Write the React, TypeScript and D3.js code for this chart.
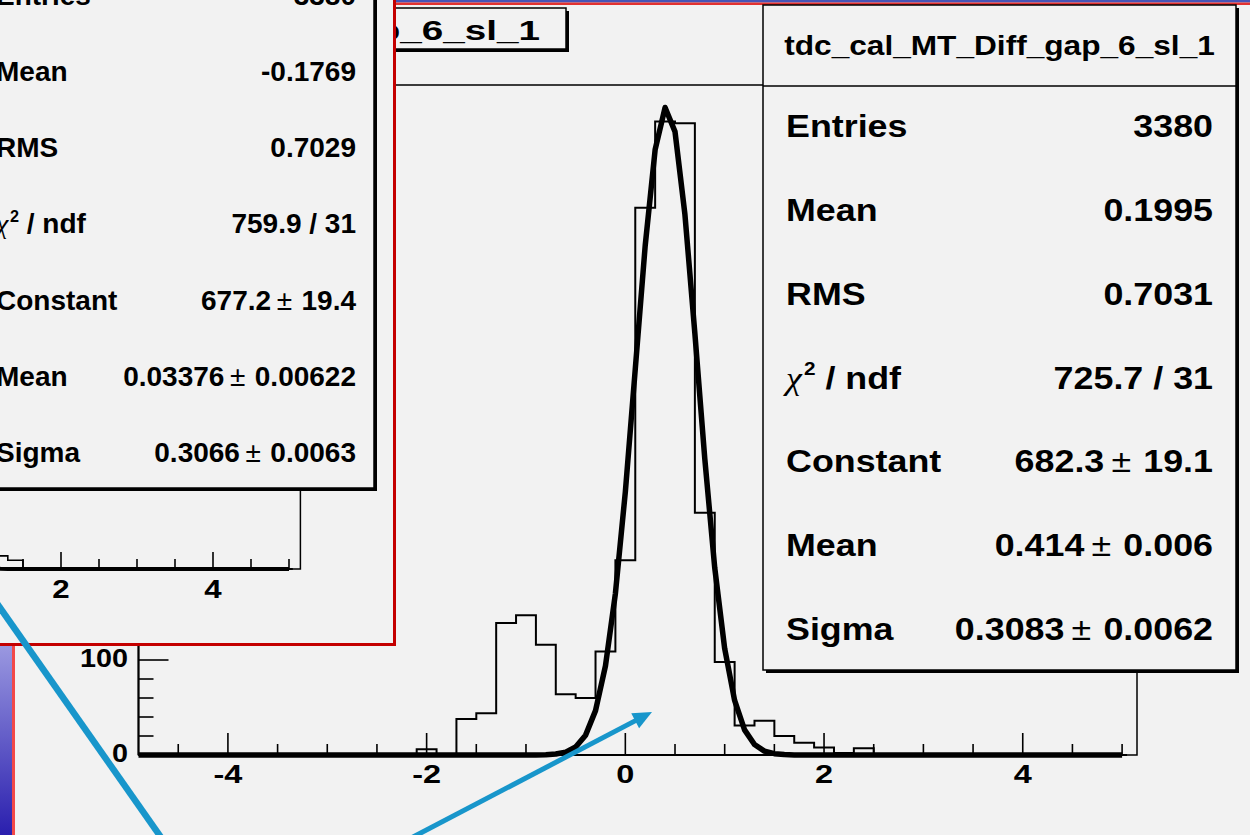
import React from 'react';
import * as d3 from 'd3';

const binEdges = [-2.1, -1.9, -1.7, -1.5, -1.3, -1.1, -0.9, -0.7, -0.5, -0.3, -0.1, 0.1, 0.3, 0.5, 0.7, 0.9, 1.1, 1.3, 1.5, 1.7, 1.9, 2.1, 2.3, 2.5];
const binCounts = [6, 0, 38, 44, 139, 147, 116, 64, 60, 109, 205, 576, 667, 665, 255, 98, 31, 36, 20, 13, 8, 2, 7];

// the older pad on the left: only its right tail is still visible
const oldBinEdges = [1.1, 1.3, 1.5, 1.7, 1.9, 2.1, 2.3];
const oldBinCounts = [18, 12, 1, 1, 1, 0];

// gaussian fits, as printed in the stat boxes
const fitMain = { constant: 682.3, mean: 0.414, sigma: 0.3083 };
const fitOld = { constant: 677.2, mean: 0.03376, sigma: 0.3066 };

const histName = 'tdc_cal_MT_Diff_gap_6_sl_1';
const statLabels = ['Entries', 'Mean', 'RMS', 'chi2', 'Constant', 'Mean', 'Sigma'];
const mainValues = ['3380', '0.1995', '0.7031', '725.7 / 31', '682.3', '0.414', '0.3083'];
const mainErrors = ['', '', '', '', '19.1', '0.006', '0.0062'];
const oldValues = ['3380', '-0.1769', '0.7029', '759.9 / 31', '677.2', '0.03376', '0.3066'];
const oldErrors = ['', '', '', '', '19.4', '0.00622', '0.0063'];

const xMajorTicks = [-4, -2, 0, 2, 4];
const yMajorTicks = [0, 100, 200, 300, 400, 500, 600, 700];

const FONT = "'Liberation Sans', Arial, Helvetica, sans-serif";
const BG = '#f2f2f2';
const ARROW = '#1896cb';

type Fit = { constant: number; mean: number; sigma: number };
type Scale = d3.ScaleLinear<number, number>;

function histPath(edges: number[], counts: number[], x: Scale, y: Scale) {
  const pts: [number, number][] = [[edges[0], 0]];
  counts.forEach((c, i) => {
    pts.push([edges[i], c]);
    pts.push([edges[i + 1], c]);
  });
  pts.push([edges[edges.length - 1], 0]);
  return d3.line<[number, number]>().x(d => x(d[0])).y(d => y(d[1]))(pts) || '';
}

function gausPath(fit: Fit, x: Scale, y: Scale, lo: number, hi: number) {
  // sampled like ROOT's TF1 (npx = 100)
  const xs = d3.range(lo, hi + 1e-9, 0.1);
  return d3.line<number>()
    .x(v => x(v))
    .y(v => y(fit.constant * Math.exp(-0.5 * ((v - fit.mean) / fit.sigma) ** 2)))(xs) || '';
}

function Txt(props: { x: number; y: number; size: number; sx: number; anchor?: string; children: React.ReactNode }) {
  const { x, y, size, sx, anchor = 'start', children } = props;
  return (
    <text transform={`translate(${x},${y}) scale(${sx},1)`} fontFamily={FONT} fontSize={size}
      fontWeight="bold" textAnchor={anchor} fill="#000">
      {children}
    </text>
  );
}

function StatRows(props: { values: string[]; errors: string[]; lx: number; vx: number; y0: number; y1: number; fs: number; sx: number }) {
  const { values, errors, lx, vx, y0, y1, fs, sx } = props;
  const rowY = d3.scalePoint<number>().domain(d3.range(statLabels.length)).range([y0, y1]);
  return (
    <g>
      {statLabels.map((lab, i) => {
        const by = rowY(i)!;
        return (
          <g key={i}>
            {lab === 'chi2' ? (
              <Txt x={lx} y={by} size={fs} sx={sx}>
                <tspan fontFamily="'Liberation Serif', serif" fontWeight="normal" fontStyle="italic">χ</tspan>
                <tspan fontSize={fs * 0.58} dx={fs * 0.06} dy={-fs * 0.42}>2</tspan>
                <tspan dy={fs * 0.42}>{' / ndf'}</tspan>
              </Txt>
            ) : (
              <Txt x={lx} y={by} size={fs} sx={sx}>{lab}</Txt>
            )}
            <Txt x={vx} y={by} size={fs} sx={sx} anchor="end">
              {values[i]}
              {errors[i] ? <tspan fontWeight="normal" dx={fs * 0.2}>±</tspan> : null}
              {errors[i] ? <tspan dx={fs * 0.06}>{' ' + errors[i]}</tspan> : null}
            </Txt>
          </g>
        );
      })}
    </g>
  );
}

function Ticks(props: { x: Scale; y0: number; major: number; minor: number; lo: number; hi: number }) {
  const { x, y0, major, minor, lo, hi } = props;
  const all = d3.range(lo, hi + 1e-9, 0.5);
  return (
    <g stroke="#000" strokeWidth={1.6}>
      {all.map(v => {
        const isMajor = xMajorTicks.includes(Math.round(v * 10) / 10);
        return <line key={v} x1={x(v)} x2={x(v)} y1={y0} y2={y0 - (isMajor ? major : minor)} />;
      })}
    </g>
  );
}

export default function App() {
  const W = 1250, H = 835;

  // right (current) pad
  const x = d3.scaleLinear().domain([-4.9, 5.15]).range([138.5, 1137]);
  const y = d3.scaleLinear().domain([0, 705.3]).range([755, 85]);

  // left (older) pad, mostly covered
  const x2 = d3.scaleLinear().domain([-4.9, 5.15]).range([-463.4, 300.4]);
  const y2 = d3.scaleLinear().domain([0, 705.3]).range([569, 56]);

  // arrow 2 head
  const tip: [number, number] = [652, 712];
  const tail: [number, number] = [392, 848];
  const len = Math.hypot(tip[0] - tail[0], tip[1] - tail[1]);
  const ux = (tip[0] - tail[0]) / len, uy = (tip[1] - tail[1]) / len;
  const hl = 19, hw = 8.5;
  const bx = tip[0] - ux * hl, by = tip[1] - uy * hl;
  const head = `${tip[0]},${tip[1]} ${bx - uy * hw},${by + ux * hw} ${bx + uy * hw},${by - ux * hw}`;

  return (
    <svg width={W} height={H} style={{ position: 'absolute', left: 0, top: 0, display: 'block' }}>
      <defs>
        <linearGradient id="strip" x1="0" y1="0" x2="0" y2="1">
          <stop offset="0" stopColor="#9a98e0" />
          <stop offset="1" stopColor="#2a1fae" />
        </linearGradient>
      </defs>
      <rect x={0} y={0} width={W} height={H} fill={BG} />

      {/* window edges of the main canvas */}
      <rect x={0} y={0} width={W} height={2.5} fill="#4654b6" />
      <rect x={0} y={2.5} width={W} height={2.5} fill="#e2312f" />
      <rect x={0} y={646} width={12} height={H - 646} fill="url(#strip)" />
      <rect x={12} y={646} width={3} height={H - 646} fill="#f24848" />

      {/* main title box */}
      <rect x={103} y={11} width={466} height={41} fill="#000" />
      <rect x={100} y={8} width={466} height={41} fill={BG} stroke="#000" strokeWidth={1.5} />
      <Txt x={540} y={40} size={28} sx={1.38} anchor="end">{histName}</Txt>

      {/* frame */}
      <rect x={x(-4.9)} y={y(705.3)} width={x(5.15) - x(-4.9)} height={y(0) - y(705.3)}
        fill="none" stroke="#000" strokeWidth={1.5} />

      {/* histogram + fit */}
      <path d={histPath(binEdges, binCounts, x, y)} fill="none" stroke="#000" strokeWidth={2} />
      <path d={gausPath(fitMain, x, y, -4.9, 5.05)} fill="none" stroke="#000" strokeWidth={5.5} strokeLinejoin="round" />

      {/* x axis */}
      <line x1={x(-4.9)} x2={x(5.05)} y1={y(0)} y2={y(0)} stroke="#000" strokeWidth={2} />
      <Ticks x={x} y0={y(0)} major={22} minor={11} lo={-4.5} hi={5} />
      {xMajorTicks.map(v => (
        <Txt key={v} x={x(v)} y={783} size={25} sx={1.3} anchor="middle">{String(v)}</Txt>
      ))}

      {/* y axis */}
      <line x1={x(-4.9)} x2={x(-4.9)} y1={y(705.3)} y2={y(0)} stroke="#000" strokeWidth={2} />
      <g stroke="#000" strokeWidth={1.6}>
        {d3.range(0, 701, 20).map(v => (
          <line key={v} x1={x(-4.9)} x2={x(-4.9) + (v % 100 === 0 ? 30 : 15)} y1={y(v)} y2={y(v)} />
        ))}
      </g>
      {yMajorTicks.map(v => (
        <Txt key={v} x={128} y={y(v) + 7} size={25} sx={1.15} anchor="end">{String(v)}</Txt>
      ))}

      {/* main stat box */}
      <rect x={766} y={8} width={473} height={665} fill="#000" />
      <rect x={763} y={5} width={473} height={665} fill={BG} stroke="#000" strokeWidth={1.5} />
      <line x1={763} x2={1236} y1={86} y2={86} stroke="#000" strokeWidth={1.5} />
      <Txt x={999.5} y={55} size={28} sx={1.13} anchor="middle">{histName}</Txt>
      <StatRows values={mainValues} errors={mainErrors} lx={786} vx={1213} y0={137} y1={640} fs={32} sx={1.12} />

      {/* older pad on the left */}
      <g>
        <rect x={-10} y={-10} width={404.5} height={654.5} fill={BG} stroke="#c40000" strokeWidth={3} />
        <rect x={x2(-4.9)} y={y2(705.3)} width={x2(5.15) - x2(-4.9)} height={y2(0) - y2(705.3)}
          fill="none" stroke="#000" strokeWidth={1.5} />
        <path d={histPath(oldBinEdges, oldBinCounts, x2, y2)} fill="none" stroke="#000" strokeWidth={1.6} />
        <path d={gausPath(fitOld, x2, y2, -4.9, 5.05)} fill="none" stroke="#000" strokeWidth={4} />
        <line x1={x2(-4.9)} x2={x2(5.05)} y1={y2(0)} y2={y2(0)} stroke="#000" strokeWidth={2} />
        <Ticks x={x2} y0={y2(0)} major={17} minor={10} lo={-4.5} hi={5} />
        {xMajorTicks.map(v => (
          <Txt key={v} x={x2(v)} y={598} size={25} sx={1.25} anchor="middle">{String(v)}</Txt>
        ))}
        <rect x={-97} y={-97} width={474} height={588} fill="#000" />
        <rect x={-100} y={-100} width={474} height={588} fill={BG} stroke="#000" strokeWidth={1.5} />
        <StatRows values={oldValues} errors={oldErrors} lx={-4} vx={356} y0={4.5} y1={462} fs={28} sx={1.0} />
      </g>

      {/* annotation arrows */}
      <line x1={-30} y1={565} x2={172} y2={853} stroke={ARROW} strokeWidth={6.5} />
      <line x1={tail[0]} y1={tail[1]} x2={bx + ux * 2} y2={by + uy * 2} stroke={ARROW} strokeWidth={5} />
      <polygon points={head} fill={ARROW} />
    </svg>
  );
}
